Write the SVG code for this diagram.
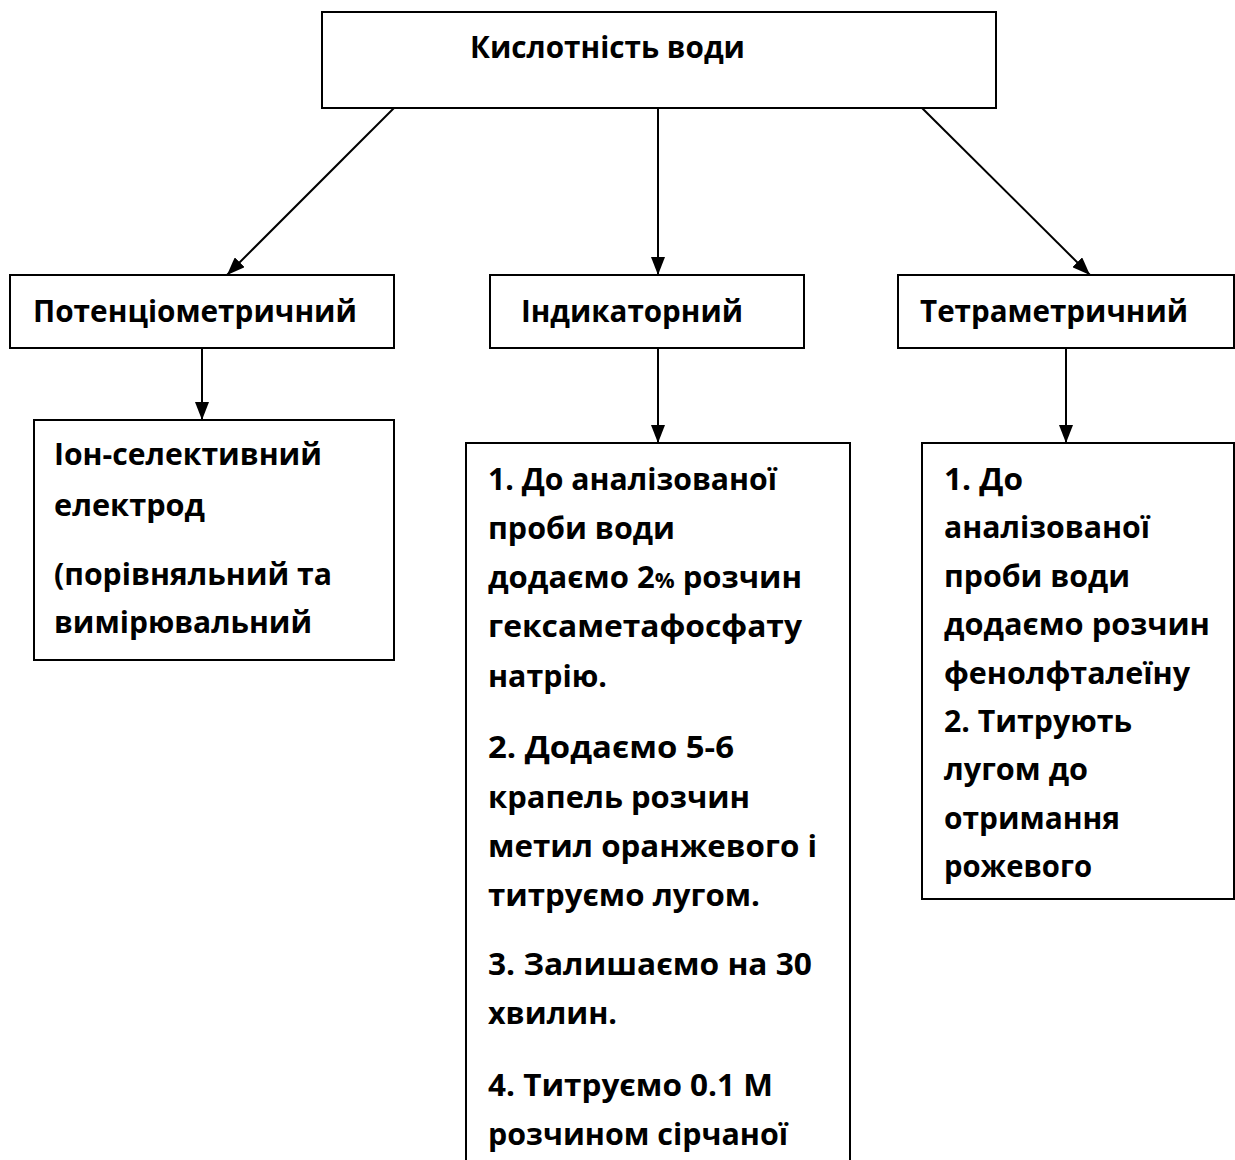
<svg xmlns="http://www.w3.org/2000/svg" width="1235" height="1160" viewBox="0 0 1235 1160">
<style>
.box{fill:#fff;stroke:#000;stroke-width:2}
.t{font-family:"Open Sans","Liberation Sans",sans-serif;font-weight:700;font-size:29.5px;fill:#000}
.c{fill:none;stroke:#000;stroke-width:2}
</style>
<defs>
<marker id="ah" viewBox="0 0 18 14" refX="18" refY="7" markerWidth="18" markerHeight="14" markerUnits="userSpaceOnUse" orient="auto">
<path d="M0,0 L18,7 L0,14 z" fill="#000"/>
</marker>
</defs>
<rect width="1235" height="1160" fill="#fff"/>
<g id="connectors">
<line class="c" x1="394" y1="108" x2="227" y2="275" marker-end="url(#ah)"/>
<line class="c" x1="658" y1="108" x2="658" y2="275" marker-end="url(#ah)"/>
<line class="c" x1="922" y1="108" x2="1090" y2="275" marker-end="url(#ah)"/>
<line class="c" x1="202" y1="348" x2="202" y2="420" marker-end="url(#ah)"/>
<line class="c" x1="658" y1="348" x2="658" y2="443" marker-end="url(#ah)"/>
<line class="c" x1="1066" y1="348" x2="1066" y2="443" marker-end="url(#ah)"/>
</g>
<g id="root">
<rect class="box" x="322" y="12" width="674" height="96"/>
<text class="t" x="470" y="58" textLength="275" lengthAdjust="spacingAndGlyphs">Кислотність води</text>
</g>
<g id="potentiometric">
<rect class="box" x="10" y="275" width="384" height="73"/>
<text class="t" x="33" y="322" textLength="324" lengthAdjust="spacingAndGlyphs">Потенціометричний</text>
</g>
<g id="indicator">
<rect class="box" x="490" y="275" width="314" height="73"/>
<text class="t" x="521" y="322" textLength="222" lengthAdjust="spacingAndGlyphs">Індикаторний</text>
</g>
<g id="titrimetric">
<rect class="box" x="898" y="275" width="336" height="73"/>
<text class="t" x="920" y="322" textLength="268" lengthAdjust="spacingAndGlyphs">Тетраметричний</text>
</g>
<g id="ion-electrode">
<rect class="box" x="34" y="420" width="360" height="240"/>
<text class="t" x="54" y="465" textLength="268" lengthAdjust="spacingAndGlyphs">Іон-селективний</text>
<text class="t" x="54" y="516" textLength="151" lengthAdjust="spacingAndGlyphs">електрод</text>
<text class="t" x="54" y="585" textLength="278" lengthAdjust="spacingAndGlyphs">(порівняльний та</text>
<text class="t" x="54" y="633" textLength="258" lengthAdjust="spacingAndGlyphs">вимірювальний</text>
</g>
<g id="indicator-steps">
<rect class="box" x="466" y="443" width="384" height="730"/>
<text class="t" x="488" y="490" textLength="289" lengthAdjust="spacingAndGlyphs">1. До аналізованої</text>
<text class="t" x="488" y="539" textLength="187" lengthAdjust="spacingAndGlyphs">проби води</text>
<text class="t" x="488" y="588" textLength="314" lengthAdjust="spacingAndGlyphs">додаємо 2<tspan font-size="21">%</tspan> розчин</text>
<text class="t" x="488" y="637" textLength="314" lengthAdjust="spacingAndGlyphs">гексаметафосфату</text>
<text class="t" x="488" y="687" textLength="119" lengthAdjust="spacingAndGlyphs">натрію.</text>
<text class="t" x="488" y="758" textLength="246" lengthAdjust="spacingAndGlyphs">2. Додаємо 5-6</text>
<text class="t" x="488" y="808" textLength="262" lengthAdjust="spacingAndGlyphs">крапель розчин</text>
<text class="t" x="488" y="857" textLength="329" lengthAdjust="spacingAndGlyphs">метил оранжевого і</text>
<text class="t" x="488" y="906" textLength="272" lengthAdjust="spacingAndGlyphs">титруємо лугом.</text>
<text class="t" x="488" y="975" textLength="324" lengthAdjust="spacingAndGlyphs">3. Залишаємо на 30</text>
<text class="t" x="488" y="1024" textLength="129" lengthAdjust="spacingAndGlyphs">хвилин.</text>
<text class="t" x="488" y="1096" textLength="285" lengthAdjust="spacingAndGlyphs">4. Титруємо 0.1 М</text>
<text class="t" x="488" y="1145" textLength="300" lengthAdjust="spacingAndGlyphs">розчином сірчаної</text>
</g>
<g id="titrimetric-steps">
<rect class="box" x="922" y="443" width="312" height="456"/>
<text class="t" x="944" y="490" textLength="79" lengthAdjust="spacingAndGlyphs">1. До</text>
<text class="t" x="944" y="538" textLength="206" lengthAdjust="spacingAndGlyphs">аналізованої</text>
<text class="t" x="944" y="587" textLength="186" lengthAdjust="spacingAndGlyphs">проби води</text>
<text class="t" x="944" y="635" textLength="266" lengthAdjust="spacingAndGlyphs">додаємо розчин</text>
<text class="t" x="944" y="684" textLength="246" lengthAdjust="spacingAndGlyphs">фенолфталеїну</text>
<text class="t" x="944" y="732" textLength="188" lengthAdjust="spacingAndGlyphs">2. Титрують</text>
<text class="t" x="944" y="780" textLength="144" lengthAdjust="spacingAndGlyphs">лугом до</text>
<text class="t" x="944" y="829" textLength="176" lengthAdjust="spacingAndGlyphs">отримання</text>
<text class="t" x="944" y="877" textLength="148" lengthAdjust="spacingAndGlyphs">рожевого</text>
</g>
</svg>
